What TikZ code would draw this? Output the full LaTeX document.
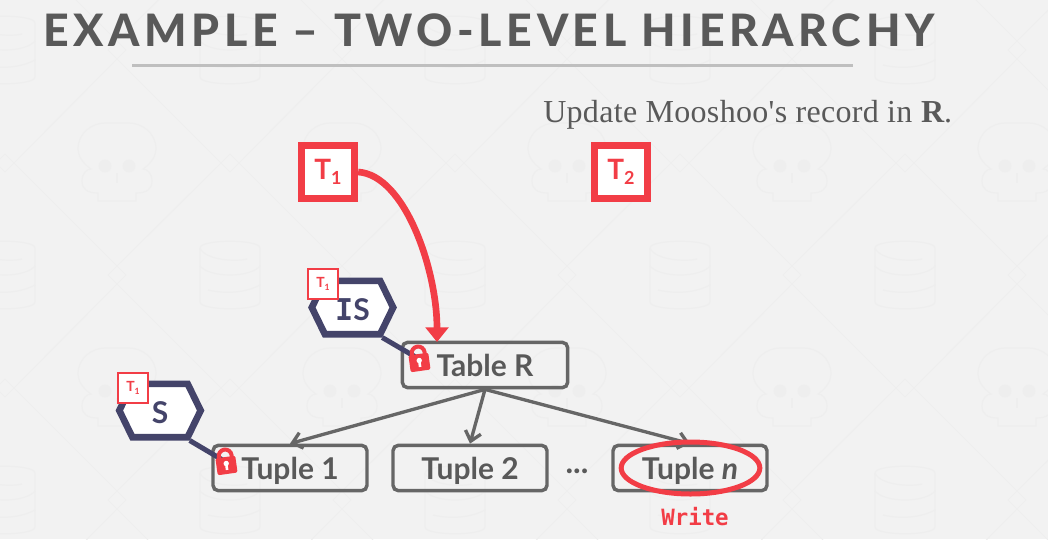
\documentclass[tikz,border=0pt]{standalone}
\usepackage{fontspec}
\usepackage{xcolor}
\usetikzlibrary{arrows.meta}
\usetikzlibrary{shapes.geometric}
\usetikzlibrary{shapes.symbols}
\setmainfont{Lato}
\newfontfamily\titleface{Lato Heavy}[LetterSpace=10.3]
\newfontfamily\serifface{Liberation Serif}[LetterSpace=1]
\newfontfamily\monoface{DejaVu Sans Mono}
\definecolor{slidebg}{HTML}{F2F2F2}
\definecolor{marklight}{HTML}{EEEEEE}
\definecolor{textgray}{HTML}{595959}
\definecolor{boxgray}{HTML}{666666}
\definecolor{rulegray}{HTML}{BFBFBF}
\definecolor{lockred}{HTML}{F23D46}
\definecolor{hexnavy}{HTML}{44446A}
\newcommand{\bigT}[1]{{\bfseries\fontsize{21}{21}\selectfont T\raisebox{-4pt}{\fontsize{13.5}{13.5}\selectfont #1}}}
\newcommand{\smallT}[1]{{\bfseries\fontsize{10.5}{10.5}\selectfont T\raisebox{-2pt}{\fontsize{6.5}{6.5}\selectfont #1}}}
\tikzset{
  recordbox/.style={draw=boxgray, line width=2.6pt, rounded corners=4pt, minimum width=115.5pt, minimum height=34pt, inner sep=0pt, text=textgray, text height=17.5pt, text depth=0pt, font=\bfseries\fontsize{22.5}{22.5}\selectfont},
  tablebox/.style={recordbox, minimum width=124pt},
  bigtag/.style={draw=lockred, fill=white, line width=5.25pt, minimum size=40pt, inner sep=0pt, text=lockred},
  smalltag/.style={draw=lockred, fill=white, line width=1.5pt, minimum size=22pt, inner sep=0pt, text=lockred},
  lockhex/.style={signal, signal to=east and west, signal pointer angle=128, draw=hexnavy, fill=white, line width=5pt, minimum width=61pt, minimum height=40pt, inner sep=0pt, text=hexnavy, text height=19pt, text depth=0pt},
  plainlabel/.style={inner sep=0pt, anchor=base west},
  edge/.style={draw=boxgray, line width=2.5pt, -{Straight Barb[length=7pt,width=12pt]}},
  hexlink/.style={draw=hexnavy, line width=3.75pt},
  dbicon/.pic={
    \draw[marklight, line width=0.9pt] (-30,-27) .. controls (-30,-36) and (30,-36) .. (30,-27) -- (30,27) .. controls (30,36) and (-30,36) .. (-30,27) -- cycle;
    \draw[marklight, line width=0.9pt] (-30,-27) .. controls (-25,-15) and (5,-13) .. (17,-16);
    \draw[marklight, line width=0.9pt] (-30,-9) .. controls (-20,3) and (20,3) .. (30,-9);
    \draw[marklight, line width=0.9pt] (-22,15) .. controls (-5,19) and (15,18) .. (30,10);
  },
  skullicon/.pic={
    \draw[marklight, line width=0.9pt] (-19,38) -- (-19,30) .. controls (-30,30) and (-35,26) .. (-35,18) .. controls (-35,10) and (-30,6) .. (-26,6) .. controls (-35,0) and (-39,-8) .. (-39,-14) .. controls (-39,-30) and (-25,-40) .. (-12,-40) -- (12,-40) .. controls (25,-40) and (39,-30) .. (39,-14) .. controls (39,-8) and (35,0) .. (26,6) .. controls (30,6) and (35,10) .. (35,18) .. controls (35,26) and (30,30) .. (19,30) -- (19,38) -- cycle;
    \fill[marklight] (-12,3) circle (6.5);
    \fill[marklight] (12,3) circle (6.5);
    \draw[marklight, line width=0.9pt] (0,10) -- (0,20);
  },
  lockicon/.pic={
    \draw[lockred, line width=3pt] (-6.5,-3) -- (-6.5,-6) arc (180:360:6.5) -- (6.5,-3);
    \fill[lockred, rounded corners=1.5pt] (-10,-5) rectangle (10,12);
    \fill[white] (0,1.5) circle (2.7);
    \fill[white] (-1.3,1.5) rectangle (1.3,8);
  },
}

\begin{document}
\begin{tikzpicture}[x=0.75pt, y=-0.75pt]
\useasboundingbox (0,0) rectangle (1048,539);
\fill[slidebg] (0,0) rectangle (1048,539);
\begin{scope}
\clip (0,0) rectangle (1048,539);
\foreach \col in {-1,...,4}
  \foreach \row in {-1,...,2} {
    \pgfmathsetmacro{\ax}{117+225*\col}
    \pgfmathsetmacro{\ay}{50+225*\row}
    \pgfmathsetmacro{\bx}{230+225*\col}
    \pgfmathsetmacro{\by}{163+225*\row}
    \draw[marklight, line width=0.75pt] (\ax-9,\ay) -- (\ax,\ay-9) -- (\ax+9,\ay) -- (\ax,\ay+9) -- cycle;
    \draw[marklight, line width=0.75pt] (\bx-9,\by) -- (\bx,\by-9) -- (\bx+9,\by) -- (\bx,\by+9) -- cycle;
    \draw[marklight, line width=0.75pt] (\ax,\ay+9) -- (\bx-9,\by) -- (\ax,\ay+216);
    \draw[marklight, line width=0.75pt] (\ax,\ay+9) -- (\bx-225+9,\by) -- (\ax,\ay+216);
    \pic at (\bx,\ay) {dbicon};
    \pic at (\ax,\by) {skullicon};
  }
\end{scope}

\node[plainlabel, text=textgray] (title) at (43,46) {\titleface\fontsize{33.5}{33.5}\selectfont EXAMPLE – TWO-LEVEL HIERARCHY};
\coordinate (ruleleft) at (132,65);
\coordinate (ruleright) at (853,65);
\draw[rulegray, line width=2.25pt] (ruleleft) -- (ruleright);
\node[plainlabel, text=textgray] (query) at (543,122) {\serifface\fontsize{24}{24}\selectfont Update Mooshoo's record in \textbf{R}.};

\node[bigtag] (t1) at (328,172) {\bigT{1}};
\node[bigtag] (t2) at (621,172) {\bigT{2}};

\node[tablebox] (tabler) at (485,365) {Table R};
\node[recordbox] (tuple1) at (290,468) {Tuple 1};
\node[recordbox] (tuple2) at (470,468) {Tuple 2};
\node[recordbox] (tuplen) at (690,468) {Tuple \textit{n}};
\node[inner sep=0pt, anchor=base, text=textgray, font=\bfseries\fontsize{24}{24}\selectfont] (dots) at (577,473) {...};

\coordinate (tablerin) at (437,342);
\draw[lockred, line width=5pt, -{Triangle[length=11pt,width=17pt]}] (t1.east) .. controls (405,175) and (437,270) .. (tablerin);

\draw[edge] (tabler.south) -- (tuple1.north);
\draw[edge] (tabler.south) -- (tuple2.north);
\draw[edge] (tabler.south) -- (tuplen.north);

\node[ellipse, draw=lockred, line width=3.75pt, minimum width=104pt, minimum height=39pt, inner sep=0pt] (ring) at (690.5,468) {};
\node[inner sep=0pt, text=lockred, font=\monoface\bfseries\fontsize{16.8}{16.8}\selectfont] (write) at (695,517) {Write};

\node[lockhex] (ishex) at (352.5,307.5) {\bfseries\fontsize{22.5}{22.5}\selectfont{\monoface I}S};
\node[lockhex] (shex) at (160,410.5) {\bfseries\fontsize{22.5}{22.5}\selectfont S};
\node[smalltag] (istag) at (323,284) {\smallT{1}};
\node[smalltag] (stag) at (133,388) {\smallT{1}};

\coordinate (locktable) at (419,359);
\coordinate (locktuple) at (226,462);
\draw[hexlink] (ishex.south east) -- (locktable);
\draw[hexlink] (shex.south east) -- (locktuple);
\pic[rotate=8] at (locktable) {lockicon};
\pic[rotate=8] at (locktuple) {lockicon};
\end{tikzpicture}
\end{document}
